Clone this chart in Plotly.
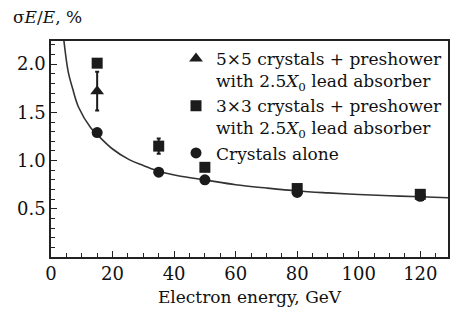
import plotly.graph_objects as go

# Data
circ_x = [15, 35, 50, 80, 120]
circ_y = [1.29, 0.88, 0.80, 0.67, 0.63]

sq_x = [15, 35, 50, 80, 120]
sq_y = [2.01, 1.15, 0.93, 0.71, 0.65]
sq_err = [0.0, 0.08, 0.0, 0.0, 0.0]

tri_x = [15]
tri_y = [1.72]
tri_err = [0.20]

fit_x = [4.2, 5.6, 7.0, 9.0, 12.9, 15, 20, 25.4, 30, 35, 41.7, 50, 60, 70, 80, 90, 100, 110, 120, 129]
fit_y = [2.24, 1.92, 1.75, 1.55, 1.34, 1.27, 1.12, 1.01, 0.95, 0.89, 0.84, 0.80, 0.75, 0.715, 0.685, 0.665, 0.648, 0.635, 0.625, 0.615]

x_ticks = [0, 20, 40, 60, 80, 100, 120]
y_ticks = [0.5, 1.0, 1.5, 2.0]
y_ticktext = ["0.5", "1.0", "1.5", "2.0"]

ink = "#1b1b1b"
font = "DejaVu Serif, serif"

fig = go.Figure()
fig.add_trace(go.Scatter(x=fit_x, y=fit_y, mode="lines", line=dict(color="#333", width=1.6, shape="spline"),
                         showlegend=False, hoverinfo="skip"))
fig.add_trace(go.Scatter(x=tri_x, y=tri_y, mode="markers",
                         marker=dict(symbol="triangle-up", size=12, color=ink),
                         error_y=dict(type="data", array=tri_err, color=ink, thickness=2, width=2),
                         name="5×5 crystals + preshower<br>with 2.5<i>X</i><sub>0</sub> lead absorber"))
fig.add_trace(go.Scatter(x=sq_x, y=sq_y, mode="markers",
                         marker=dict(symbol="square", size=11, color=ink),
                         error_y=dict(type="data", array=sq_err, color=ink, thickness=2, width=2),
                         name="3×3 crystals + preshower<br>with 2.5<i>X</i><sub>0</sub> lead absorber"))
fig.add_trace(go.Scatter(x=circ_x, y=circ_y, mode="markers",
                         marker=dict(symbol="circle", size=11, color=ink),
                         name="Crystals alone"))

fig.update_xaxes(range=[0, 129], tickvals=x_ticks,
                 showline=True, linecolor="#222", linewidth=1.5, mirror=True, ticks="inside",
                 tickcolor="#222", ticklen=6, tickwidth=1.2, showgrid=False, zeroline=False,
                 tickfont=dict(family=font, size=18, color="#111"),
                 minor=dict(dtick=5, tick0=0, ticks="inside", ticklen=4, tickcolor="#222", showgrid=False),
                 title=dict(text="Electron energy, GeV", font=dict(family=font, size=17, color="#111"), standoff=8))
fig.update_yaxes(range=[0, 2.24], tickvals=y_ticks, ticktext=y_ticktext,
                 showline=True, linecolor="#222", linewidth=1.5, mirror=True, ticks="inside",
                 tickcolor="#222", ticklen=6, tickwidth=1.2, showgrid=False, zeroline=False,
                 tickfont=dict(family=font, size=18, color="#111"),
                 minor=dict(dtick=0.1, tick0=0, ticks="inside", ticklen=4, tickcolor="#222", showgrid=False))

fig.update_layout(
    width=451, height=312,
    margin=dict(l=51, r=3, t=41, b=55, autoexpand=False),
    paper_bgcolor="white", plot_bgcolor="white",
    font=dict(family=font, size=17, color="#111"),
    legend=dict(x=1.0, xanchor="right", y=1.0, yanchor="top", bgcolor="rgba(0,0,0,0)",
                valign="top", tracegroupgap=0, itemwidth=30,
                font=dict(family=font, size=17, color="#111")),
    annotations=[dict(text="σ<i>E</i>/<i>E</i>, %", xref="paper", yref="paper", x=-0.1, y=1.055,
                      xanchor="left", yanchor="bottom", showarrow=False,
                      font=dict(family=font, size=17, color="#111"))],
)

fig.write_html("out.html", config={"displayModeBar": False},
               post_script="document.body.style.margin='0px';")
